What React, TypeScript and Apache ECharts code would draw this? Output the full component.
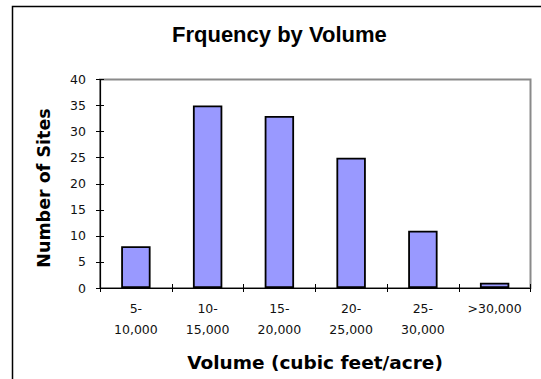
import React, { useEffect, useRef } from "react";
import * as echarts from "echarts";

const categories = ["5-\n10,000", "10-\n15,000", "15-\n20,000", "20-\n25,000", "25-\n30,000", ">30,000"];
const siteCounts = [8, 35, 33, 25, 11, 1];
const yMin = 0;
const yMax = 40;
const yStep = 5;

const titleText = "Frquency by Volume";
const xName = "Volume (cubic feet/acre)";
const yName = "Number of Sites";

const labelFont = "'DejaVu Sans', sans-serif";
const titleFont = "'Liberation Sans', Arial, sans-serif";

export default function App() {
  const ref = useRef<HTMLDivElement>(null);

  useEffect(() => {
    if (!ref.current) return;
    const chart = echarts.init(ref.current, null, { renderer: "svg" });
    chart.setOption({
      animation: false,
      backgroundColor: "#ffffff",
      title: {
        text: titleText,
        left: 172,
        top: 23,
        padding: 0,
        textStyle: { fontFamily: titleFont, fontWeight: "bold", fontSize: 22, color: "#000" },
      },
      grid: {
        left: 100,
        top: 79.5,
        right: 10.5,
        bottom: 91,
        show: true,
        borderColor: "#8a8a8a",
        borderWidth: 2,
        backgroundColor: "transparent",
      },
      xAxis: [
        {
          type: "category",
          data: categories,
          position: "bottom",
          axisLine: { lineStyle: { color: "#000", width: 1.2 } },
          axisTick: { show: true, inside: false, length: 4, lineStyle: { color: "#000", width: 1 } },
          axisLabel: {
            margin: 10,
            color: "#111",
            fontFamily: labelFont,
            fontSize: 12.5,
            lineHeight: 21,
            interval: 0,
          },
          splitLine: { show: false },
        },
        {
          type: "category",
          data: categories,
          position: "bottom",
          axisLine: { show: false },
          axisTick: { show: true, inside: true, length: 4, lineStyle: { color: "#000", width: 1 } },
          axisLabel: { show: false },
          splitLine: { show: false },
        },
      ],
      yAxis: [
        {
          type: "value",
          min: yMin,
          max: yMax,
          interval: yStep,
          position: "left",
          axisLine: { show: true, lineStyle: { color: "#000", width: 1.2 } },
          axisTick: { show: true, inside: false, length: 4, lineStyle: { color: "#000", width: 1 } },
          axisLabel: { margin: 14, color: "#111", fontFamily: labelFont, fontSize: 12.5 },
          splitLine: { show: false },
        },
        {
          type: "value",
          min: yMin,
          max: yMax,
          interval: yStep,
          position: "left",
          axisLine: { show: false },
          axisTick: { show: true, inside: true, length: 4, lineStyle: { color: "#000", width: 1 } },
          axisLabel: { show: false },
          splitLine: { show: false },
        },
      ],
      series: [
        {
          type: "bar",
          data: siteCounts,
          xAxisIndex: 0,
          yAxisIndex: 0,
          barCategoryGap: "59%",
          itemStyle: { color: "#9999ff", borderColor: "#000", borderWidth: 1.8 },
        },
      ],
      graphic: [
        {
          type: "rect",
          shape: { x: 12.5, y: 6.5, width: 700, height: 500 },
          style: { fill: "none", stroke: "#000", lineWidth: 1.5 },
          silent: true,
        },
        {
          type: "text",
          x: 44,
          y: 188,
          rotation: Math.PI / 2,
          style: {
            text: yName,
            fontFamily: labelFont,
            fontWeight: "bold",
            fontSize: 17.5,
            fill: "#000",
            align: "center",
            verticalAlign: "middle",
          },
        },
        {
          type: "text",
          x: 315,
          y: 362,
          style: {
            text: xName,
            fontFamily: labelFont,
            fontWeight: "bold",
            fontSize: 18.5,
            fill: "#000",
            align: "center",
            verticalAlign: "middle",
          },
        },
      ],
    });
    return () => chart.dispose();
  }, []);

  return (
    <div
      ref={ref}
      style={{ position: "fixed", left: 0, top: 0, width: 541, height: 379 }}
    />
  );
}
